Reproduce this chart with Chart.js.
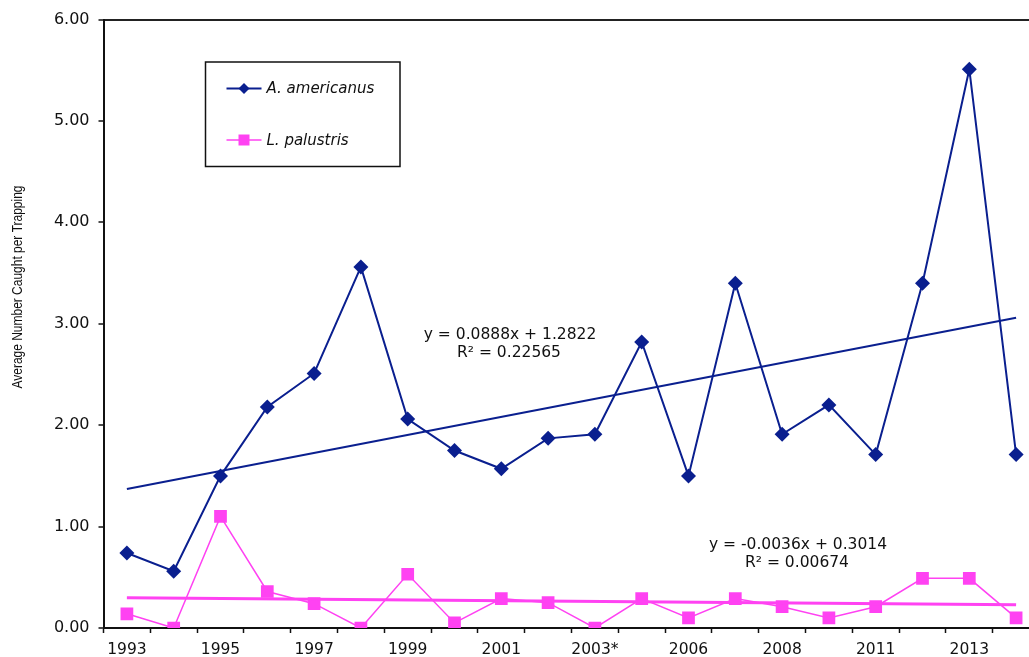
<!DOCTYPE html>
<html>
<head>
<meta charset="utf-8">
<script src="https://cdn.jsdelivr.net/npm/chart.js@4/dist/chart.umd.min.js"></script>
<style>
  html, body { margin: 0; padding: 0; background: #fff; overflow: hidden; }
  #wrap { width: 1050px; height: 657px; }
</style>
</head>
<body>
<div id="wrap"><canvas id="c" width="1050" height="657"></canvas></div>
<script>
// Survey years (trapping seasons)
const years = ['1993', '1994', '1995', '1996', '1997', '1998', '1999', '2000', '2001', '2002',
               '2003*', '2004', '2006', '2007', '2008', '2009', '2011', '2012', '2013', '2014'];
// Axis labels shown under every other season
const tickLabels = ['1993', '', '1995', '', '1997', '', '1999', '', '2001', '',
                    '2003*', '', '2006', '', '2008', '', '2011', '', '2013', ''];
const yTicks = [0, 1, 2, 3, 4, 5, 6];

// Average number caught per trapping
const americanus = [0.74, 0.56, 1.50, 2.18, 2.51, 3.56, 2.06, 1.75, 1.57, 1.87,
                    1.91, 2.82, 1.50, 3.40, 1.91, 2.20, 1.71, 3.40, 5.51, 1.71];
const palustris  = [0.14, 0.00, 1.10, 0.36, 0.24, 0.00, 0.53, 0.05, 0.29, 0.25,
                    0.00, 0.29, 0.10, 0.29, 0.21, 0.10, 0.21, 0.49, 0.49, 0.10];

// Linear trend fits (x = 1 .. n)
const americanusFit = [0.0888, 1.2822, 0.22565];   // slope, intercept, R²
const palustrisFit  = [-0.0036, 0.3014, 0.00674];

const BLUE = '#0a1f8f';
const PINK = '#ff42f2';

function trendSeries(fit) {
  const n = years.length;
  return years.map((_, i) => (i === 0 || i === n - 1) ? fit[0] * (i + 1) + fit[1] : null);
}
function eqText(fit) {
  const sign = fit[1] >= 0 ? '+' : '-';
  return ['y = ' + fit[0].toFixed(4) + 'x ' + sign + ' ' + Math.abs(fit[1]).toFixed(4),
          'R² = ' + fit[2].toFixed(5)];
}

const FONT = '"DejaVu Sans", Verdana, sans-serif';

// Boxed legend in the upper-left of the plot
const boxLegend = {
  id: 'boxLegend',
  afterDraw(chart) {
    const ctx = chart.ctx;
    ctx.save();
    ctx.strokeStyle = '#111';
    ctx.lineWidth = 1.5;
    ctx.strokeRect(205.5, 62, 194.5, 104.5);
    const rows = [
      { ds: chart.data.datasets[0], y: 88.5 },
      { ds: chart.data.datasets[1], y: 140 }
    ];
    rows.forEach(r => {
      ctx.strokeStyle = r.ds.borderColor;
      ctx.lineWidth = r.ds.borderWidth;
      ctx.beginPath();
      ctx.moveTo(226.5, r.y);
      ctx.lineTo(261.5, r.y);
      ctx.stroke();
      ctx.fillStyle = r.ds.backgroundColor;
      ctx.beginPath();
      if (r.ds.pointStyle === 'rectRot') {
        ctx.moveTo(244, r.y - 5.5); ctx.lineTo(249.5, r.y);
        ctx.lineTo(244, r.y + 5.5); ctx.lineTo(238.5, r.y);
        ctx.closePath();
      } else {
        ctx.rect(238.5, r.y - 5.5, 11, 11);
      }
      ctx.fill();
      ctx.fillStyle = '#111';
      ctx.font = 'italic 15px ' + FONT;
      ctx.textBaseline = 'middle';
      ctx.textAlign = 'left';
      ctx.fillText(r.ds.label, 266.5, r.y + 1);
    });
    ctx.restore();
  }
};

// Trend-line equations and the vertical axis title
const notes = {
  id: 'notes',
  afterDraw(chart) {
    const ctx = chart.ctx;
    ctx.save();
    ctx.fillStyle = '#111';
    ctx.font = '15.5px ' + FONT;
    ctx.textAlign = 'center';
    ctx.textBaseline = 'middle';
    const a = eqText(americanusFit);
    ctx.fillText(a[0], 510, 335);
    ctx.fillText(a[1], 509, 353);
    const p = eqText(palustrisFit);
    ctx.fillText(p[0], 798, 545);
    ctx.fillText(p[1], 797, 563);

    // condensed sans title, reading bottom to top
    ctx.translate(18.5, 287);
    ctx.rotate(-Math.PI / 2);
    ctx.scale(0.855, 1);
    ctx.font = '14px "Liberation Sans", Arial, sans-serif';
    ctx.fillText('Average Number Caught per Trapping', 0, 0);
    ctx.restore();
  }
};

new Chart(document.getElementById('c'), {
  type: 'line',
  data: {
    labels: years,
    datasets: [
      {
        label: 'A. americanus',
        data: americanus,
        borderColor: BLUE,
        backgroundColor: BLUE,
        borderWidth: 2,
        pointStyle: 'rectRot',
        pointRadius: 7.5,
        pointHoverRadius: 7.5,
        pointBorderWidth: 0,
        tension: 0,
        order: 2
      },
      {
        label: 'L. palustris',
        data: palustris,
        borderColor: PINK,
        backgroundColor: PINK,
        borderWidth: 1.5,
        pointStyle: 'rect',
        pointRadius: 9,
        pointHoverRadius: 9,
        pointBorderWidth: 0,
        tension: 0,
        order: 3
      },
      {
        label: 'A. americanus trend',
        data: trendSeries(americanusFit),
        borderColor: BLUE,
        borderWidth: 2,
        pointRadius: 0,
        spanGaps: true,
        order: 1
      },
      {
        label: 'L. palustris trend',
        data: trendSeries(palustrisFit),
        borderColor: PINK,
        borderWidth: 3,
        pointRadius: 0,
        spanGaps: true,
        order: 1
      }
    ]
  },
  options: {
    responsive: false,
    animation: false,
    devicePixelRatio: 1,
    layout: { padding: { top: 19.5, right: 10.5, left: 0, bottom: 0 } },
    plugins: { legend: { display: false }, tooltip: { enabled: false } },
    scales: {
      x: {
        type: 'category',
        offset: true,
        afterFit: s => { s.height = 29; },
        grid: { offset: true, drawOnChartArea: false, tickLength: 5, tickColor: '#111', tickWidth: 1.5 },
        border: { color: '#111', width: 2 },
        ticks: {
          autoSkip: false, maxRotation: 0, minRotation: 0, padding: 8,
          color: '#111', font: { family: FONT, size: 15.5 },
          callback: (v, i) => tickLabels[i]
        }
      },
      y: {
        min: yTicks[0],
        max: yTicks[yTicks.length - 1],
        afterFit: s => { s.width = 103.5; },
        afterBuildTicks: s => { s.ticks = yTicks.map(v => ({ value: v })); },
        grid: {
          color: c => (c.tick && c.tick.value === 6) ? '#222' : 'rgba(0,0,0,0)',
          lineWidth: 2, tickLength: 5, tickColor: '#111', tickWidth: 1.5
        },
        border: { color: '#111', width: 2 },
        ticks: {
          padding: 9, color: '#111', font: { family: FONT, size: 16 },
          callback: v => v.toFixed(2)
        }
      }
    }
  },
  plugins: [boxLegend, notes]
});
</script>
</body>
</html>
